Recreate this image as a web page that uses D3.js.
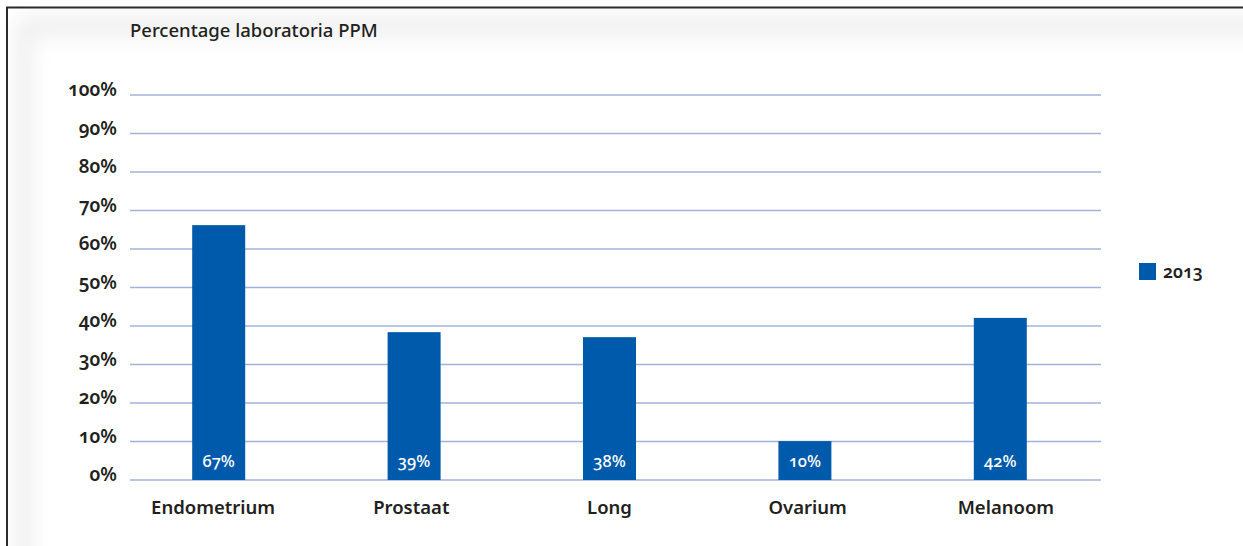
<!DOCTYPE html>
<html>
<head>
<meta charset="utf-8">
<script src="https://cdn.jsdelivr.net/npm/d3@7/dist/d3.min.js"></script>
<style>
html,body{margin:0;padding:0;background:#fff;}
svg{display:block;font-family:"Noto Sans","Open Sans",sans-serif;font-variant-numeric:oldstyle-nums;font-feature-settings:"onum" 1;}
</style>
</head>
<body>
<svg id="chart" width="1243" height="546"></svg>
<script>
const categories = ["Endometrium", "Prostaat", "Long", "Ovarium", "Melanoom"];
const values2013 = [66.2, 38.4, 37.1, 10.1, 42.1];
const valueLabels = ["67%", "39%", "38%", "10%", "42%"];
const yTicks = [0, 10, 20, 30, 40, 50, 60, 70, 80, 90, 100];
const seriesName = "2013";
const title = "Percentage laboratoria PPM";

const svg = d3.select("#chart");
const defs = svg.append("defs");
const f = defs.append("filter").attr("id", "sh").attr("x", "-10%").attr("y", "-10%").attr("width", "120%").attr("height", "120%");
f.append("feGaussianBlur").attr("stdDeviation", 9);

// frame
svg.append("rect").attr("x", 14).attr("y", 14).attr("width", 1260).attr("height", 580)
  .attr("rx", 16).attr("fill", "#f2f2f2").attr("filter", "url(#sh)");
svg.append("rect").attr("x", 34).attr("y", 38).attr("width", 1240).attr("height", 560)
  .attr("rx", 14).attr("fill", "#fff").attr("filter", "url(#sh)");
svg.append("path").attr("d", "M7,546 V7.5 H1243").attr("fill", "none").attr("stroke", "#2a2a2a").attr("stroke-width", 2);

const xc = d3.scaleBand().domain(categories).range([121, 1098]);
const xl = d3.scaleBand().domain(categories).range([114, 1105]);
const y = d3.scaleLinear().domain([0, 100]).range([480, 95]);

// gridlines
svg.append("g").selectAll("line").data(yTicks).join("line")
  .attr("x1", 130).attr("x2", 1101)
  .attr("y1", d => y(d)).attr("y2", d => y(d))
  .attr("stroke", "#9fb3dd").attr("stroke-width", 1.5);

// y axis labels
const yAxis = d3.axisLeft(y).tickValues(yTicks).tickFormat(d => d + "%").tickSize(0).tickPadding(0);
const ga = svg.append("g").attr("transform", "translate(117,0)").call(yAxis);
ga.select(".domain").remove();
ga.selectAll("text").attr("font-size", 19).attr("font-weight", 600).attr("fill", "#231f20")
  .attr("font-family", "'Noto Sans','Open Sans',sans-serif").attr("dy", "0.05em");

// bars
const bw = 53;
svg.append("g").selectAll("rect").data(values2013).join("rect")
  .attr("x", (d, i) => xc(categories[i]) + xc.bandwidth() / 2 - bw / 2)
  .attr("width", bw)
  .attr("y", d => y(d)).attr("height", d => y(0) - y(d))
  .attr("fill", "#005aab");

// bar value labels
svg.append("g").selectAll("text").data(valueLabels).join("text")
  .attr("x", (d, i) => xc(categories[i]) + xc.bandwidth() / 2)
  .attr("y", 467).attr("text-anchor", "middle")
  .attr("font-size", 16.5).attr("font-weight", 500).attr("fill", "#fff").text(d => d);

// category labels
svg.append("g").selectAll("text").data(categories).join("text")
  .attr("x", d => xl(d) + xl.bandwidth() / 2)
  .attr("y", 514).attr("text-anchor", "middle")
  .attr("font-size", 18.5).attr("font-weight", 600).attr("fill", "#231f20").text(d => d);

// title
svg.append("text").attr("x", 130).attr("y", 37).attr("font-size", 18.5).attr("font-weight", 500)
  .attr("fill", "#231f20").text(title);

// legend
svg.append("rect").attr("x", 1139).attr("y", 263).attr("width", 17).attr("height", 17).attr("fill", "#005aab");
svg.append("text").attr("x", 1163).attr("y", 278).attr("font-size", 17.5).attr("font-weight", 600)
  .attr("fill", "#231f20").text(seriesName);
</script>
</body>
</html>
